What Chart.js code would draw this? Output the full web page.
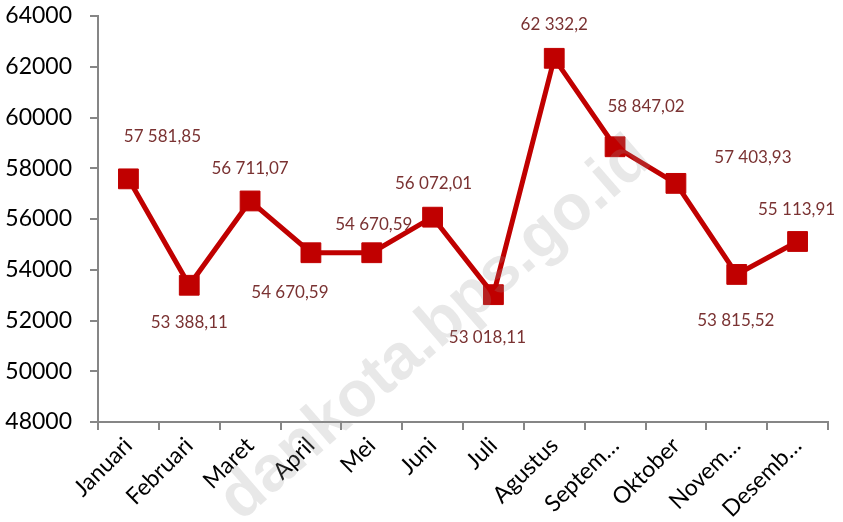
<!DOCTYPE html>
<html>
<head>
<meta charset="utf-8">
<script src="https://cdn.jsdelivr.net/npm/chart.js@4/dist/chart.umd.min.js"></script>
<style>
  html, body { margin: 0; padding: 0; background: #fff; }
  #wrap { width: 843px; height: 522px; }
</style>
</head>
<body>
<div id="wrap"><canvas id="chart" width="843" height="522"></canvas></div>
<script>
// data
const months = ['Januari', 'Februari', 'Maret', 'April', 'Mei', 'Juni', 'Juli', 'Agustus', 'Septem…', 'Oktober', 'Novem…', 'Desemb…'];
const values = [57581.85, 53388.11, 56711.07, 54670.59, 54670.59, 56072.01, 53018.11, 62332.2, 58847.02, 57403.93, 53815.52, 55113.91];
const valueText = ['57 581,85', '53 388,11', '56 711,07', '54 670,59', '54 670,59', '56 072,01', '53 018,11', '62 332,2', '58 847,02', '57 403,93', '53 815,52', '55 113,91'];
const yMin = 48000;
const yMax = 64000;
const yStep = 2000;

// where each value label sits relative to its marker (dx, dy in px)
const labelShift = [[34, -42], [0, 37], [0, -32], [-21, 40], [2, -28], [1, -34], [-6, 43], [0, -34], [31, -40], [77, -26], [-1, 46], [-1, -32]];

const AXIS = '#868686';
const LINE = '#c00000';

const valueLabels = {
  id: 'valueLabels',
  afterDatasetsDraw(chart) {
    const ctx = chart.ctx;
    const meta = chart.getDatasetMeta(0);
    ctx.save();
    ctx.font = '17px Lato';
    ctx.fillStyle = '#7a3232';
    ctx.textAlign = 'center';
    ctx.textBaseline = 'middle';
    meta.data.forEach((pt, i) => {
      const [dx, dy] = labelShift[i];
      ctx.fillText(valueText[i], pt.x + dx, pt.y + dy);
    });
    ctx.restore();
  }
};

const watermark = {
  id: 'watermark',
  afterDraw(chart) {
    const ctx = chart.ctx;
    ctx.save();
    ctx.translate(654, 163);
    ctx.rotate(-41 * Math.PI / 180);
    ctx.font = 'bold 64px "Liberation Sans"';
    ctx.fillStyle = 'rgba(150,150,150,0.22)';
    ctx.textAlign = 'right';
    ctx.textBaseline = 'alphabetic';
    ctx.fillText('dankota.bps.go.id', 0, 0);
    ctx.restore();
  }
};

new Chart(document.getElementById('chart'), {
  type: 'line',
  data: {
    labels: months,
    datasets: [{
      data: values,
      borderColor: LINE,
      borderWidth: 5,
      backgroundColor: LINE,
      pointStyle: 'rect',
      pointRadius: 14,
      pointBorderWidth: 1,
      pointBorderColor: LINE,
      pointBackgroundColor: LINE,
      tension: 0
    }]
  },
  options: {
    responsive: false,
    animation: false,
    layout: { padding: { top: 16, right: 13, left: 0, bottom: 0 } },
    plugins: { legend: { display: false }, tooltip: { enabled: false } },
    scales: {
      x: {
        offset: true,
        grid: { display: true, offset: true, drawOnChartArea: false, drawTicks: true, tickLength: 8, color: AXIS, lineWidth: 2 },
        border: { display: true, color: AXIS, width: 2 },
        ticks: { color: '#000', font: { family: 'Lato', size: 23 }, minRotation: 45, maxRotation: 45, autoSkip: false, padding: 2 },
        afterFit: s => { s.height = 100; s.paddingLeft = 0; s.paddingRight = 0; }
      },
      y: {
        min: yMin,
        max: yMax,
        grid: { display: true, drawOnChartArea: false, drawTicks: true, tickLength: 8, color: AXIS, lineWidth: 2 },
        border: { display: true, color: AXIS, width: 2 },
        ticks: { stepSize: yStep, color: '#000', font: { family: 'Lato', size: 23 }, padding: 18, callback: v => String(v) },
        afterFit: s => { s.width = 98; s.paddingTop = 0; s.paddingBottom = 0; }
      }
    }
  },
  plugins: [valueLabels, watermark]
});
</script>
</body>
</html>
